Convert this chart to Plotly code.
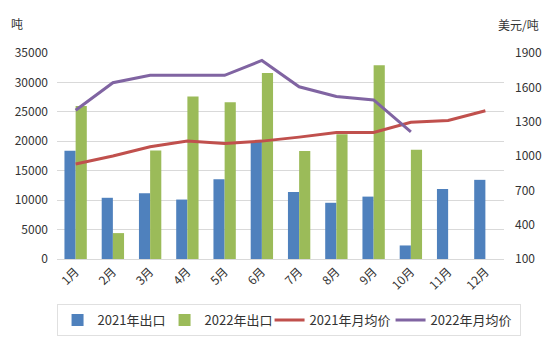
import plotly.graph_objects as go

months = ["1月", "2月", "3月", "4月", "5月", "6月", "7月", "8月", "9月", "10月", "11月", "12月"]
export_2021 = [18400, 10400, 11150, 10100, 13550, 19900, 11400, 9550, 10600, 2300, 11900, 13450]
export_2022 = [26000, 4400, 18450, 27600, 26650, 31600, 18350, 21200, 32900, 18550]
price_2021 = [930, 1000, 1080, 1130, 1110, 1130, 1165, 1205, 1205, 1295, 1310, 1395]
price_2022 = [1400, 1640, 1705, 1705, 1705, 1835, 1605, 1520, 1490, 1210]
left_ticks = [0, 5000, 10000, 15000, 20000, 25000, 30000, 35000]
right_ticks = [100, 400, 700, 1000, 1300, 1600, 1900]

FONT = "Noto Sans CJK SC, Microsoft YaHei, sans-serif"

fig = go.Figure()
fig.add_trace(go.Bar(x=months, y=export_2021, name="2021年出口", marker_color="#4F81BD",
                     marker_line_width=0, legendwidth=62))
fig.add_trace(go.Bar(x=months[:len(export_2022)], y=export_2022, name="2022年出口",
                     marker_color="#9BBB59", marker_line_width=0, legendwidth=60))
fig.add_trace(go.Scatter(x=months, y=price_2021, name="2021年月均价", mode="lines",
                         line=dict(color="#C0504D", width=3), yaxis="y2", legendwidth=76))
fig.add_trace(go.Scatter(x=months[:len(price_2022)], y=price_2022, name="2022年月均价", mode="lines",
                         line=dict(color="#8064A2", width=3), yaxis="y2", legendwidth=84))

pw = 554 - 57 - 50
ph = 342 - 53 - 83

fig.update_layout(
    width=554, height=342,
    margin=dict(l=57, r=50, t=53, b=83, autoexpand=False),
    paper_bgcolor="white", plot_bgcolor="white",
    font=dict(family=FONT, size=12, color="#333333"),
    barmode="group", bargap=0.4, bargroupgap=0,
    showlegend=True,
    legend=dict(orientation="h", x=-0.001, xanchor="left", y=-(304 - 259) / ph, yanchor="top",
                bordercolor="#e0e0e0", borderwidth=1, font=dict(size=13, color="#333333"),
                traceorder="normal", itemwidth=30, tracegroupgap=0),
    xaxis=dict(tickangle=-45, showline=True, linecolor="#d9d9d9", linewidth=1,
               showgrid=False, ticks="", tickfont=dict(size=12)),
    yaxis=dict(range=[0, 35000], tickvals=left_ticks, tickformat="d", showgrid=True,
               gridcolor="#d9d9d9", gridwidth=1, zeroline=False, ticks="",
               tickfont=dict(size=12), ticklabelstandoff=8),
    yaxis2=dict(overlaying="y", side="right", range=[100, 1900], tickvals=right_ticks,
                tickformat="d", showgrid=False, zeroline=False, ticks="",
                tickfont=dict(size=12), ticklabelstandoff=10),
    annotations=[
        dict(text="吨", x=(17 - 57) / pw, y=(259 - 23) / ph, xref="paper", yref="paper",
             showarrow=False, xanchor="center", yanchor="middle",
             font=dict(size=12, color="#333333")),
        dict(text="美元/吨", x=(518 - 57) / pw, y=(259 - 24) / ph, xref="paper", yref="paper",
             showarrow=False, xanchor="center", yanchor="middle",
             font=dict(size=12, color="#333333")),
    ],
)

fig.write_html("out.html")
